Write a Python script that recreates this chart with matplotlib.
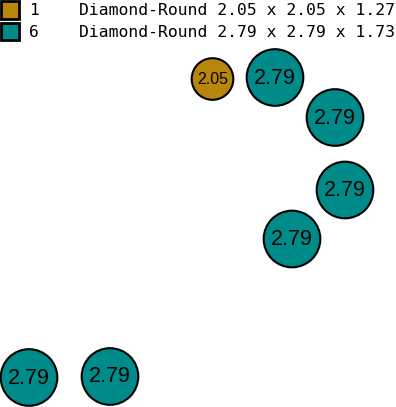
import matplotlib
matplotlib.use("Agg")
import matplotlib.pyplot as plt
from matplotlib.patches import Circle, Rectangle

# legend rows
counts = ["1", "6"]
shapes = ["Diamond-Round 2.05 x 2.05 x 1.27", "Diamond-Round 2.79 x 2.79 x 1.73"]
colors = ["#B8860B", "#008B8B"]

# stones: diameter (mm) and layout position (px)
diam = [2.05, 2.79, 2.79, 2.79, 2.79, 2.79, 2.79]
stone_color = [0, 1, 1, 1, 1, 1, 1]
x_pos = [212.5, 275, 335, 345, 292, 29, 110]
y_pos = [79, 77.5, 117.5, 190, 239, 377.5, 376.5]

px_per_mm = 20.3

fig = plt.figure(figsize=(3.96, 4.07), dpi=100)
ax = fig.add_axes([0, 0, 1, 1])
ax.set_xlim(0, 396)
ax.set_ylim(407, 0)
ax.axis("off")

#LEGEND
for i, (n, s, c) in enumerate(zip(counts, shapes, colors)):
    y0 = 1.2 + i * 21.5
    ax.add_patch(Rectangle((1.2, y0), 17.5, 17.5, facecolor=c, edgecolor="black", linewidth=2.0))
    ax.text(29, y0 + 9.5, n, fontsize=11.8, family="DejaVu Sans Mono", va="center", ha="left")
    ax.text(79, y0 + 9.5, s, fontsize=11.8, family="DejaVu Sans Mono", va="center", ha="left")

#STONES
for d, ci, x, y in zip(diam, stone_color, x_pos, y_pos):
    r = d * px_per_mm / 2
    ax.add_patch(Circle((x, y), r, facecolor=colors[ci], edgecolor="black", linewidth=1.5))
    fs = 15.5 if d > 2.5 else 11.5
    ax.text(x, y + 0.5, "{:.2f}".format(d), fontsize=fs, family="Liberation Sans",
            ha="center", va="center", color="black")

fig.savefig("out.png", dpi=100)
